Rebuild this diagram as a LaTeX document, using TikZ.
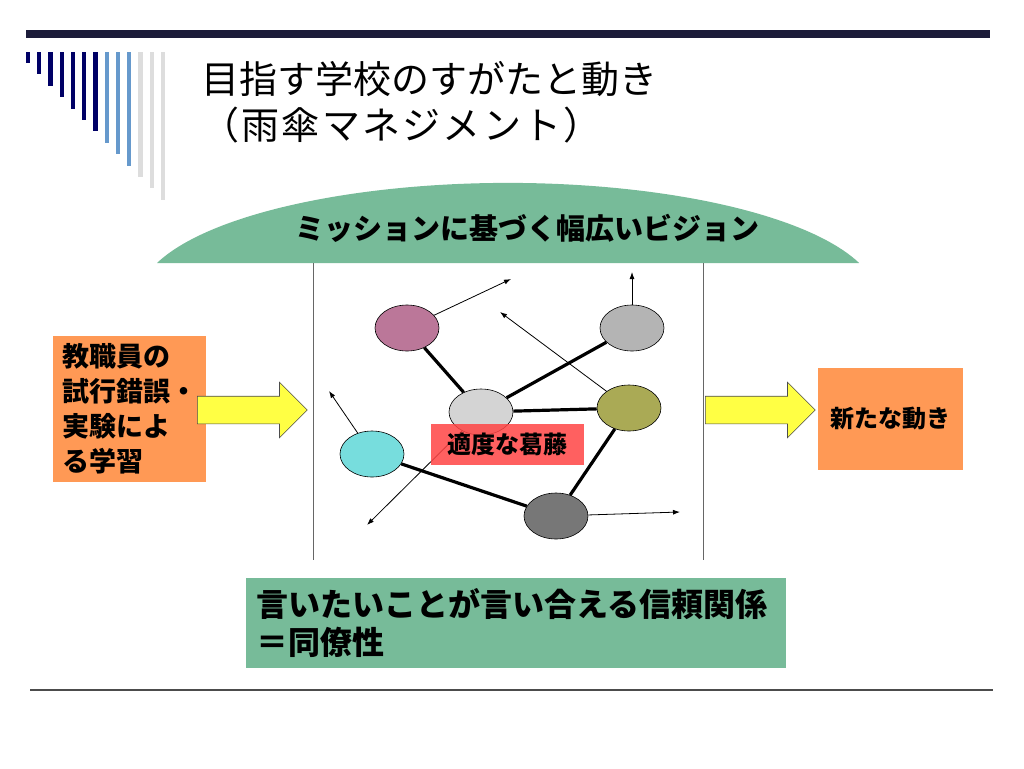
\documentclass[tikz,border=0pt]{standalone}
\usepackage{fontspec}
\setmainfont{Noto Sans CJK JP}
\newfontfamily\widetitle[LetterSpace=6]{Noto Sans CJK JP}
\usetikzlibrary{shapes.geometric,shapes.arrows,arrows.meta}
\definecolor{headbar}{HTML}{1C1C3A}
\definecolor{navy}{HTML}{000066}
\definecolor{skyblue}{HTML}{6699CC}
\definecolor{palegray}{HTML}{DDDDDD}
\definecolor{umbrellagreen}{HTML}{77BB99}
\definecolor{boxorange}{HTML}{FF9955}
\definecolor{arrowyellow}{HTML}{FFFF44}
\definecolor{conflictred}{HTML}{FF4444}
\definecolor{pinkc}{HTML}{BB7799}
\definecolor{grayc}{HTML}{B4B4B4}
\definecolor{lightc}{HTML}{D4D4D4}
\definecolor{olivec}{HTML}{AAAA55}
\definecolor{cyanc}{HTML}{77DDDD}
\definecolor{darkc}{HTML}{777777}
\tikzset{
  member/.style={ellipse, draw, line width=0.6pt, minimum width=64pt, minimum height=46pt, inner sep=0pt},
  tie/.style={line width=3.2pt},
  move/.style={line width=0.8pt, -{Latex[length=7pt,width=5pt]}},
  bigarrow/.style={single arrow, draw=black!70, fill=arrowyellow, line width=0.6pt, minimum height=110pt,
    inner xsep=0pt, inner ysep=13.5pt, single arrow head extend=14pt, anchor=tail},
}
\newcommand{\fs}[2]{\fontsize{#1pt}{#2pt}\selectfont}
\begin{document}
\begin{tikzpicture}[x=1pt,y=-1pt]
\useasboundingbox (0,0) rectangle (1024,768);

\fill[headbar] (26,30) rectangle (990,38);
\foreach \i/\c in {0/navy,1/navy,2/navy,3/navy,4/navy,5/navy,6/navy,7/skyblue,8/skyblue,9/skyblue,10/palegray,11/palegray,12/palegray}
  \fill[\c] ({28+11.25*\i-2.2},52) rectangle ({28+11.25*\i+2.2},{63+11.4*\i});

\node[anchor=west, inner sep=0pt, font=\fs{38}{42}] (title1) at (201,79) {目指す学校のすがたと動き};
\node[anchor=west, inner sep=0pt, font=\widetitle\fs{38}{42}] (title2) at (201,125) {（雨傘マネジメント）};

\fill[umbrellagreen] (157,263) arc[start angle=161.6, end angle=18.4, x radius=370pt, y radius=117pt] -- cycle;
\node[font=\bfseries\fs{29}{32}] (vision) at (527,228) {ミッションに基づく幅広いビジョン};

\draw[black!60, line width=0.8pt] (313,263) -- (313,560);
\draw[black!60, line width=0.8pt] (703,263) -- (703,560);

\node[fill=boxorange, minimum width=153pt, minimum height=146pt, text width=135pt, inner xsep=9pt, align=left, font=\bfseries\fs{27}{35}] (learn) at (129.5,409) {教職員の\\試行錯誤・\\実験によ\\る学習};
\node[bigarrow] (inarrow) at (197,410) {};
\node[bigarrow] (outarrow) at (705,410) {};
\node[fill=boxorange, minimum width=145pt, minimum height=102pt, font=\bfseries\fs{24}{26}] (newmove) at (890.5,419) {新たな動き};

\node[member, fill=pinkc] (pink) at (407,328) {};
\node[member, fill=grayc] (gray) at (632,328) {};
\node[member, fill=lightc] (light) at (481,412) {};
\node[member, fill=olivec] (olive) at (629,408) {};
\node[member, fill=cyanc] (cyan) at (372,454) {};
\node[member, fill=darkc] (dark) at (556,516) {};

\draw[tie] (pink) -- (light);
\draw[tie] (light) -- (gray);
\draw[tie] (light) -- (olive);
\draw[tie] (olive) -- (dark);
\draw[tie] (cyan) -- (dark);

\coordinate (p1) at (511,279);
\coordinate (p2) at (632,272);
\coordinate (p3) at (500,312);
\coordinate (p4) at (329,391);
\coordinate (p5) at (367,525);
\coordinate (p6) at (680,512);
\draw[move] (pink) -- (p1);
\draw[move] (gray.north) -- (p2);
\draw[move] (olive) -- (p3);
\draw[move] (cyan) -- (p4);
\draw[move] (light) -- (p5);
\draw[move] (dark) -- (p6);

\node[fill=conflictred, fill opacity=0.85, text opacity=1, minimum width=153pt, minimum height=41pt, font=\bfseries\fs{24}{26}] (conflict) at (507.5,444.5) {適度な葛藤};

\node[fill=umbrellagreen, minimum width=540pt, minimum height=90pt, text width=520pt, inner xsep=10pt, align=left, font=\bfseries\fs{32}{38}] (collegiality) at (516,623) {言いたいことが言い合える信頼関係\\＝同僚性};

\draw[black!70, line width=1.2pt] (30,690) -- (993,690);
\end{tikzpicture}
\end{document}
